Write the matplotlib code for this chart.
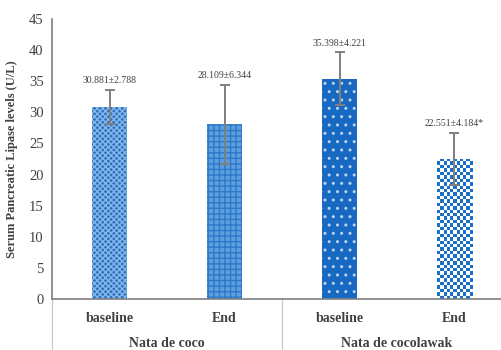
import matplotlib
matplotlib.use("Agg")
import matplotlib.pyplot as plt
import numpy as np

# data
groups = ["Nata de coco", "Nata de cocolawak"]
categories = ["baseline", "End", "baseline", "End"]
means = [30.881, 28.109, 35.398, 22.551]
sds = [2.788, 6.344, 4.221, 4.184]
labels = ["30.881±2.788", "28.109±6.344", "35.398±4.221", "22.551±4.184*"]

plt.rcParams["font.family"] = ["Liberation Serif", "DejaVu Serif"]

fig = plt.figure(figsize=(5.02, 3.5), dpi=100)
ax = fig.add_axes([52 / 502, 51 / 350, 460 / 502, 280 / 350])

x = np.arange(len(means))
width = 0.31

# bar textures: (face, hatch colour, hatch)
styles = [
    ("#2a72c2", "#86b7e8", "xxxxxx"),
    ("#5b9fdf", "#2f78c6", "+++"),
    ("#1769c2", "#b9d4f0", ".."),
    (None, None, None),
]

bars = []
for i in range(len(means)):
    face, hcol, hatch = styles[i]
    if face is None:
        b = ax.bar(x[i], means[i], width, color="white", linewidth=0, zorder=2)[0]
        # checkerboard fill clipped to the bar
        w_px, h_px = 36, means[i] * 280 / 45
        nx, ny = int(round(w_px / 3.4)), int(round(h_px / 3.4))
        checker = (np.add.outer(np.arange(ny), np.arange(nx)) % 2).astype(float)
        cmap = matplotlib.colors.ListedColormap(["white", "#1a6fc8"])
        im = ax.imshow(checker, cmap=cmap, interpolation="nearest", aspect="auto",
                       extent=(b.get_x(), b.get_x() + b.get_width(), 0, b.get_height()),
                       zorder=2.5)
        im.set_clip_path(b)
    else:
        b = ax.bar(x[i], means[i], width, color=face, edgecolor=hcol, hatch=hatch,
                   linewidth=0, zorder=2)[0]
    bars.append(b)

ax.errorbar(x, means, yerr=sds, fmt="none", ecolor="#7f7f7f", elinewidth=1.4,
            capsize=3.5, capthick=1.4, zorder=3)

for i in range(len(means)):
    ax.annotate(labels[i], (x[i], means[i] + sds[i]), xytext=(0, 3),
                textcoords="offset points", ha="center", va="bottom",
                fontsize=7, color="#404040")

ax.set_xlim(-0.5, 3.5)
ax.set_ylim(0, 45)
ax.set_yticks(np.arange(0, 46, 5))
ax.tick_params(axis="y", length=0, labelsize=10.5, labelcolor="#404040", pad=6)
ax.set_xticks(x)
ax.set_xticklabels(categories, fontsize=10, fontweight="bold", color="#404040")
ax.tick_params(axis="x", length=0, pad=9)
ax.set_aspect("auto")

for s in ["top", "right"]:
    ax.spines[s].set_visible(False)
ax.spines["left"].set_color("#7f7f7f")
ax.spines["bottom"].set_color("#7f7f7f")
ax.spines["left"].set_linewidth(1.2)
ax.spines["bottom"].set_linewidth(1.2)

# group separators and group labels below the axis
trans = ax.get_xaxis_transform()
for sep in [-0.5, 1.5]:
    ax.plot([sep, sep], [0, -0.2], transform=trans, color="#c8c8c8",
            linewidth=0.9, clip_on=False)
for gi, g in enumerate(groups):
    ax.text(gi * 2 + 0.5, -0.158, g, transform=trans, ha="center", va="center",
            fontsize=10, fontweight="bold", color="#404040")

ax.set_ylabel("Serum Pancreatic Lipase levels (U/L)", fontsize=9,
              fontweight="bold", color="#404040", labelpad=8)

fig.savefig("out.png", dpi=100)
